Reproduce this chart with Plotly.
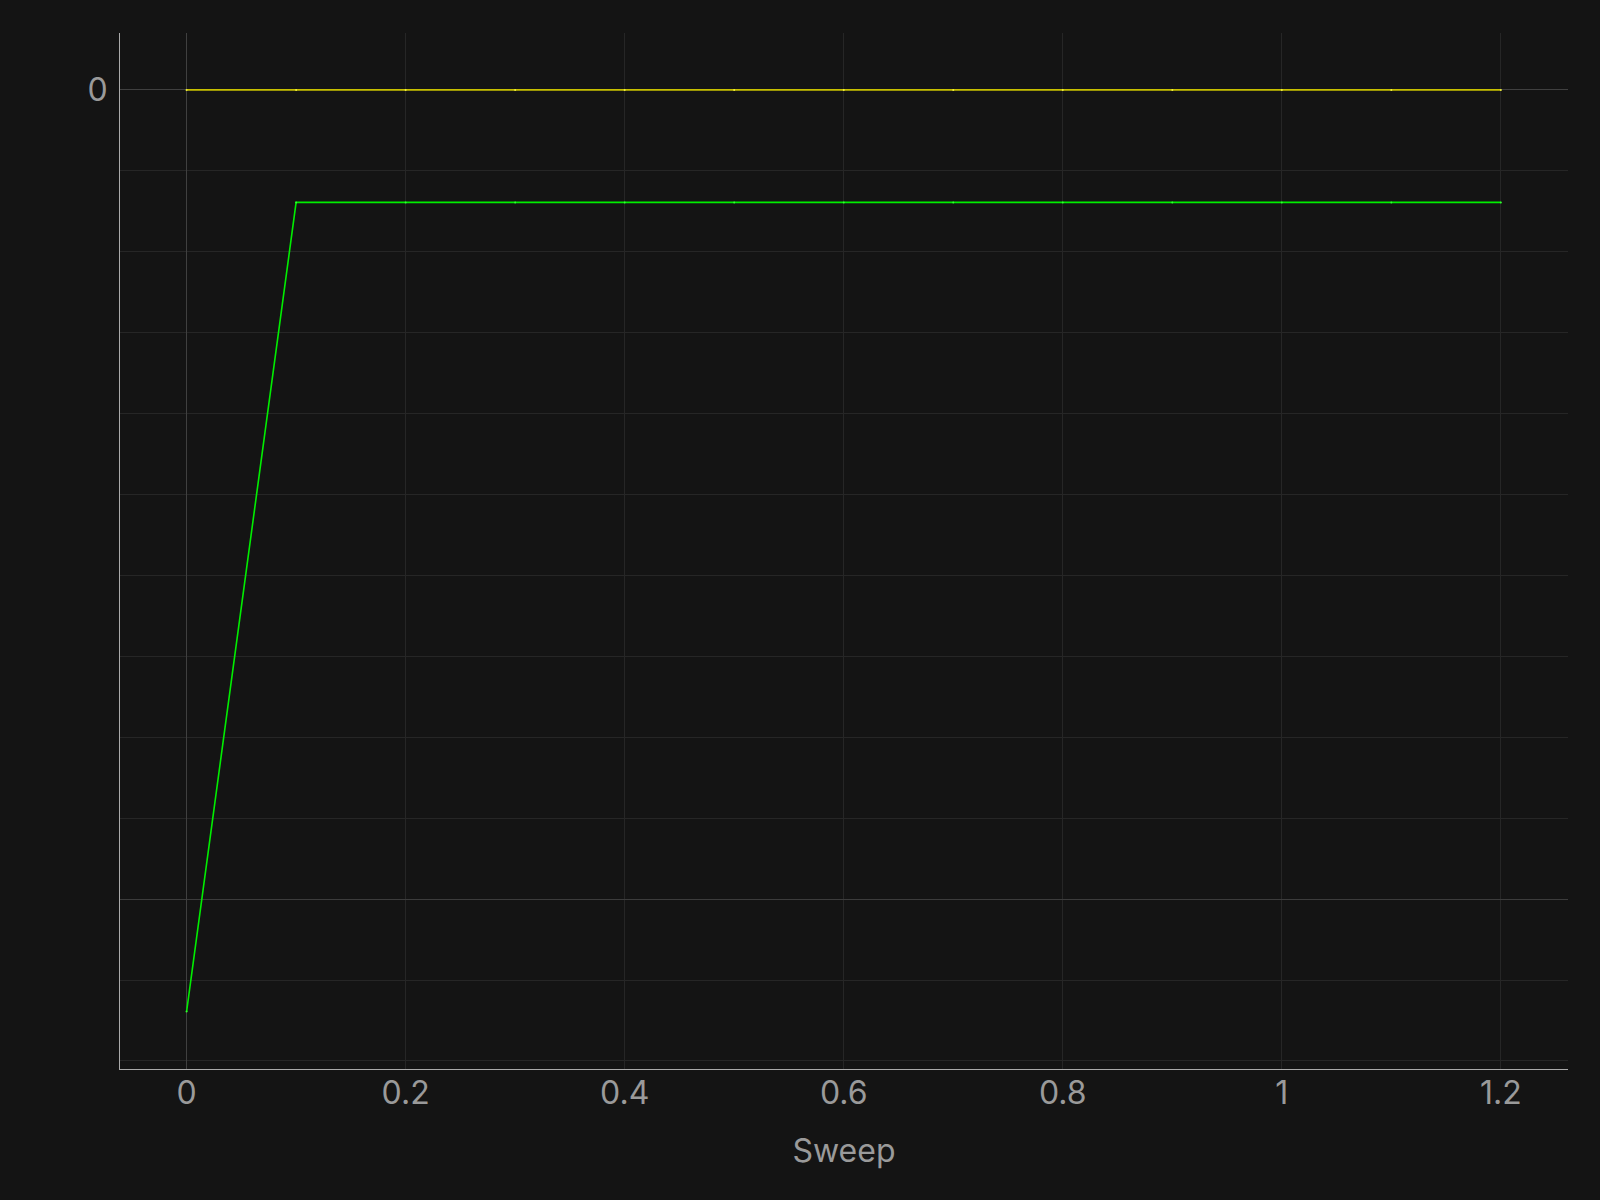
import plotly.graph_objects as go

sweep = [0.0, 0.1, 0.2, 0.3, 0.4, 0.5, 0.6, 0.7, 0.8, 0.9, 1.0, 1.1, 1.2]
yellow_vals = [0, 0, 0, 0, 0, 0, 0, 0, 0, 0, 0, 0, 0]
green_vals = [-1.139, -0.139, -0.139, -0.139, -0.139, -0.139, -0.139,
              -0.139, -0.139, -0.139, -0.139, -0.139, -0.139]
x_ticks = [0, 0.2, 0.4, 0.6, 0.8, 1.0, 1.2]
x_labels = ["0", "0.2", "0.4", "0.6", "0.8", "1", "1.2"]
y_ticks = [0, -1]
y_labels = ["0", ""]

BG = "#141414"
FONT = "Inter, 'Noto Sans', sans-serif"

fig = go.Figure()
fig.add_trace(go.Scatter(
    x=sweep, y=green_vals, mode="lines+markers",
    line=dict(color="#00ee00", width=1.6),
    marker=dict(color="#30ff30", size=2),
    showlegend=False))
fig.add_trace(go.Scatter(
    x=sweep, y=yellow_vals, mode="lines+markers",
    line=dict(color="#c8c000", width=1.6),
    marker=dict(color="#f0f040", size=2),
    showlegend=False))

fig.update_layout(
    width=1600, height=1200,
    paper_bgcolor=BG, plot_bgcolor=BG,
    margin=dict(l=120, r=32, t=33, b=131),
    font=dict(family=FONT, color="#9a9a9a", size=32),
    xaxis=dict(
        range=[-0.0608, 1.2613],
        tickvals=x_ticks, ticktext=x_labels,
        showgrid=True, gridcolor="#262626", gridwidth=1,
        zeroline=True, zerolinecolor="#404040", zerolinewidth=1,
        showline=True, linecolor="#aaaaaa", linewidth=1,
        ticks="", tickfont=dict(size=32, color="#9a9a9a"),
        ticklabelstandoff=-4,
        title=dict(text="Sweep", font=dict(size=32, color="#9a9a9a"), standoff=28),
    ),
    yaxis=dict(
        range=[-1.2099, 0.0703],
        tickvals=y_ticks, ticktext=y_labels,
        showgrid=True, gridcolor="#3c3c3c", gridwidth=1,
        zeroline=True, zerolinecolor="#404040", zerolinewidth=1,
        showline=True, linecolor="#aaaaaa", linewidth=1,
        ticks="", tickfont=dict(size=32, color="#9a9a9a"),
        ticklabelstandoff=5,
        minor=dict(tickmode="linear", tick0=0, dtick=0.1, showgrid=True,
                   gridcolor="#262626", gridwidth=1, ticks=""),
    ),
)

fig.write_html(
    "out.html",
    config={"displayModeBar": False},
    post_script="document.body.style.margin='0';document.body.style.background='#141414';",
)
